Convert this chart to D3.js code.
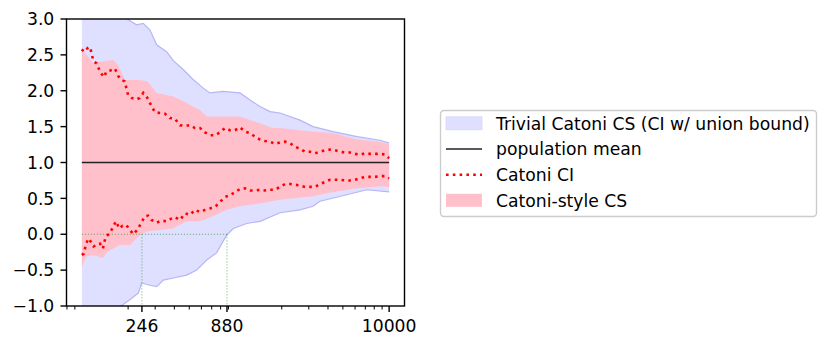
<!DOCTYPE html>
<html>
<head>
<meta charset="utf-8">
<script src="https://cdn.jsdelivr.net/npm/d3@7"></script>
<style>
  html, body { margin: 0; padding: 0; background: #fff; }
  svg { display: block; font-family: "DejaVu Sans", sans-serif; }
</style>
</head>
<body>
<svg id="chart" width="831" height="348"></svg>
<script>
// ---- data ----
const populationMean = 1.0;
const nRange = [100, 10000];
const xTickValues = [246, 880, 10000];
const xMinorTicks = [80, 90, 200, 300, 400, 500, 600, 700, 800, 900,
                     2000, 3000, 4000, 5000, 6000, 7000, 8000, 9000];
const yTickValues = [-1.0, -0.5, 0.0, 0.5, 1.0, 1.5, 2.0, 2.5, 3.0];
const crossingN = [246, 880];

// Catoni CI (dotted red) upper bound
const ciUpperN = [100,105,108,113,119,125,131,139,145,152,164,173,181,190,200,211,227,238,251,264,277,299,322,348,374,403,435,469,506,545,587,633,682,735,792,854,920,993,1070,1153,1243,1340,1444,1556,1678,1808,1949,2101,2265,2441,2631,2836,3057,3295,3551,3828,4126,4447,4793,5166,5568,6002,6469,6973,7516,8101,8732,9412,10000];
const ciUpper  = [2.55,2.61,2.59,2.61,2.41,2.38,2.27,2.19,2.27,2.28,2.31,2.20,2.15,2.13,1.94,1.90,1.88,1.90,1.97,1.92,1.83,1.70,1.69,1.68,1.62,1.61,1.52,1.51,1.52,1.48,1.48,1.42,1.38,1.38,1.42,1.48,1.45,1.45,1.49,1.43,1.41,1.36,1.32,1.30,1.29,1.26,1.28,1.29,1.27,1.22,1.19,1.15,1.15,1.13,1.15,1.17,1.18,1.17,1.15,1.14,1.14,1.12,1.11,1.13,1.12,1.12,1.12,1.11,1.06];
// Catoni CI lower bound
const ciLowerN = [100,103,106,110,114,119,125,131,137,143,152,160,167,175,184,194,206,216,229,241,257,270,284,306,330,356,384,403,435,469,506,545,587,633,682,735,792,854,920,993,1070,1153,1243,1340,1444,1556,1678,1808,1949,2101,2265,2441,2631,2836,3057,3295,3551,3828,4126,4447,4793,5166,5568,6002,6469,6973,7516,8101,8732,9412,10000];
const ciLower  = [-0.29,-0.27,-0.15,-0.06,-0.10,-0.17,-0.15,-0.13,-0.20,-0.03,0.01,0.11,0.18,0.08,0.12,0.13,0.06,0.00,0.06,0.14,0.25,0.26,0.20,0.16,0.19,0.18,0.22,0.24,0.20,0.29,0.27,0.34,0.31,0.34,0.36,0.38,0.45,0.52,0.54,0.59,0.63,0.64,0.61,0.61,0.62,0.61,0.62,0.62,0.66,0.70,0.70,0.69,0.68,0.66,0.66,0.66,0.70,0.73,0.76,0.76,0.76,0.75,0.75,0.76,0.78,0.80,0.80,0.80,0.81,0.81,0.78];

// Catoni-style CS (pink band)
const csUpperN = [100,119,138,160,172,191,238,269,307,394,481,587,649,1069,1300,1755,1949,3199,4318,6189,8735,10000];
const csUpper  = [2.58,2.38,2.41,2.43,2.36,2.15,2.15,2.13,1.97,1.92,1.83,1.73,1.64,1.64,1.58,1.48,1.48,1.43,1.41,1.32,1.29,1.25];
const csLowerN = [100,107,119,137,147,177,206,239,264,322,391,481,587,713,877,1069,1444,1949,3199,4318,6189,8735,10000];
const csLower  = [-0.45,-0.31,-0.29,-0.33,-0.24,-0.15,-0.15,-0.01,0.04,0.06,0.08,0.18,0.18,0.25,0.34,0.39,0.43,0.48,0.53,0.59,0.64,0.67,0.66];

// Trivial Catoni CS (blue band)
const trivUpperN = [100,150,200,227,251,277,307,357,394,455,528,614,682,829,1069,1243,1444,1678,1949,2630,3199,4318,6189,8735,10000];
const trivUpper  = [3.80,3.30,2.99,2.92,2.94,2.85,2.64,2.54,2.42,2.30,2.16,2.04,1.97,1.99,1.97,1.87,1.78,1.71,1.69,1.59,1.50,1.43,1.36,1.31,1.27];
const trivLowerN = [100,150,177,206,233,245,264,307,339,394,481,559,649,753,877,968,1183,1444,1949,2630,3199,3550,5309,7164,10000];
const trivLower  = [-1.60,-1.20,-1.01,-0.91,-0.82,-0.68,-0.70,-0.73,-0.64,-0.61,-0.57,-0.50,-0.36,-0.26,-0.01,0.08,0.15,0.18,0.30,0.34,0.39,0.46,0.55,0.62,0.59];

const legendLabels = ["Trivial Catoni CS (CI w/ union bound)", "population mean", "Catoni CI", "Catoni-style CS"];

// ---- layout ----
const L = 66.5, R = 404.5, T = 19, B = 306;
const svg = d3.select("#chart");
const x = d3.scaleLog().domain([Math.pow(10, 1.9), Math.pow(10, 4.1)]).range([L, R]);
const y = d3.scaleLinear().domain([-1, 3]).range([B, T]);

const blueFill = "#dfdfff", blueEdge = "#b6b6f5", pinkFill = "#ffc0cb";

svg.append("defs").append("clipPath").attr("id", "clip")
  .append("rect").attr("x", L).attr("y", T).attr("width", R - L).attr("height", B - T);
const plot = svg.append("g").attr("clip-path", "url(#clip)");

function band(nU, vU, nL, vL) {
  const up = nU.map((n, i) => [x(n), y(vU[i])]);
  const lo = nL.map((n, i) => [x(n), y(vL[i])]).reverse();
  return "M" + up.concat(lo).map(p => p.join(",")).join("L") + "Z";
}
const lineGen = d3.line().x(d => x(d[0])).y(d => y(d[1]));
const zip = (a, b) => a.map((v, i) => [v, b[i]]);

// blue band
plot.append("path").attr("d", band(trivUpperN, trivUpper, trivLowerN, trivLower))
  .attr("fill", blueFill).attr("stroke", "none");
plot.append("path").attr("d", lineGen(zip(trivUpperN, trivUpper))).attr("fill", "none").attr("stroke", blueEdge).attr("stroke-width", 1.2);
plot.append("path").attr("d", lineGen(zip(trivLowerN, trivLower))).attr("fill", "none").attr("stroke", blueEdge).attr("stroke-width", 1.2);

// pink band
plot.append("path").attr("d", band(csUpperN, csUpper, csLowerN, csLower))
  .attr("fill", pinkFill).attr("stroke", "none");

// green crossing markers
const green = "rgba(0,128,0,0.5)";
plot.append("line").attr("x1", x(nRange[0])).attr("x2", x(crossingN[1]))
  .attr("y1", y(0)).attr("y2", y(0)).attr("stroke", green).attr("stroke-width", 1).attr("stroke-dasharray", "1.2,1.8");
crossingN.forEach(n => {
  plot.append("line").attr("x1", x(n)).attr("x2", x(n)).attr("y1", y(0)).attr("y2", y(-1))
    .attr("stroke", green).attr("stroke-width", 1).attr("stroke-dasharray", "1.2,1.8");
});

// population mean
plot.append("line").attr("x1", x(nRange[0])).attr("x2", x(nRange[1]))
  .attr("y1", y(populationMean)).attr("y2", y(populationMean))
  .attr("stroke", "#222").attr("stroke-width", 1.5);

// Catoni CI dotted
[zip(ciUpperN, ciUpper), zip(ciLowerN, ciLower)].forEach(d => {
  plot.append("path").attr("d", lineGen(d)).attr("fill", "none")
    .attr("stroke", "red").attr("stroke-width", 2.6).attr("stroke-dasharray", "2.6,4.2");
});

// ---- axes ----
const fs = 17.2;
const ax = svg.append("g");
// y ticks
yTickValues.forEach(v => {
  ax.append("line").attr("x1", L - 6).attr("x2", L).attr("y1", y(v)).attr("y2", y(v))
    .attr("stroke", "#000").attr("stroke-width", 1.4);
  ax.append("text").attr("x", L - 12.2).attr("y", y(v) + 6.2).attr("text-anchor", "end")
    .attr("font-size", fs).attr("fill", "#000").text(d3.format(".1f")(v));
});
// x major ticks
xTickValues.forEach(v => {
  ax.append("line").attr("x1", x(v)).attr("x2", x(v)).attr("y1", B).attr("y2", B + 6)
    .attr("stroke", "#000").attr("stroke-width", 1.4);
  ax.append("text").attr("x", x(v)).attr("y", B + 25.7).attr("text-anchor", "middle")
    .attr("font-size", fs).attr("fill", "#000").text(String(v));
});
xMinorTicks.forEach(v => {
  ax.append("line").attr("x1", x(v)).attr("x2", x(v)).attr("y1", B).attr("y2", B + 3.5)
    .attr("stroke", "#000").attr("stroke-width", 1.0);
});
// spines
ax.append("rect").attr("x", L).attr("y", T).attr("width", R - L).attr("height", B - T)
  .attr("fill", "none").attr("stroke", "#000").attr("stroke-width", 1.4);

// ---- legend ----
const lg = svg.append("g");
lg.append("rect").attr("x", 440.5).attr("y", 110.5).attr("width", 376).attr("height", 106)
  .attr("rx", 3.5).attr("fill", "#fff").attr("fill-opacity", 0.8).attr("stroke", "#cccccc").attr("stroke-width", 1.4);
const rowY = [123.3, 149, 174.7, 200.3];
const hx0 = 446, hx1 = 482, tx = 496;
// row 0: blue patch
lg.append("rect").attr("x", hx0).attr("y", rowY[0] - 6.5).attr("width", hx1 - hx0).attr("height", 13)
  .attr("fill", blueFill).attr("stroke", "#d6d6fb").attr("stroke-width", 0.8);
// row 1: black line
lg.append("line").attr("x1", hx0).attr("x2", hx1).attr("y1", rowY[1]).attr("y2", rowY[1])
  .attr("stroke", "#222").attr("stroke-width", 1.5);
// row 2: red dotted
lg.append("line").attr("x1", hx0).attr("x2", hx1).attr("y1", rowY[2]).attr("y2", rowY[2])
  .attr("stroke", "red").attr("stroke-width", 2.6).attr("stroke-dasharray", "2.6,4.2");
// row 3: pink patch
lg.append("rect").attr("x", hx0).attr("y", rowY[3] - 6.5).attr("width", hx1 - hx0).attr("height", 13)
  .attr("fill", pinkFill);
legendLabels.forEach((t, i) => {
  lg.append("text").attr("x", tx).attr("y", rowY[i] + 6.2).attr("font-size", fs).attr("fill", "#000").text(t);
});
</script>
</body>
</html>
